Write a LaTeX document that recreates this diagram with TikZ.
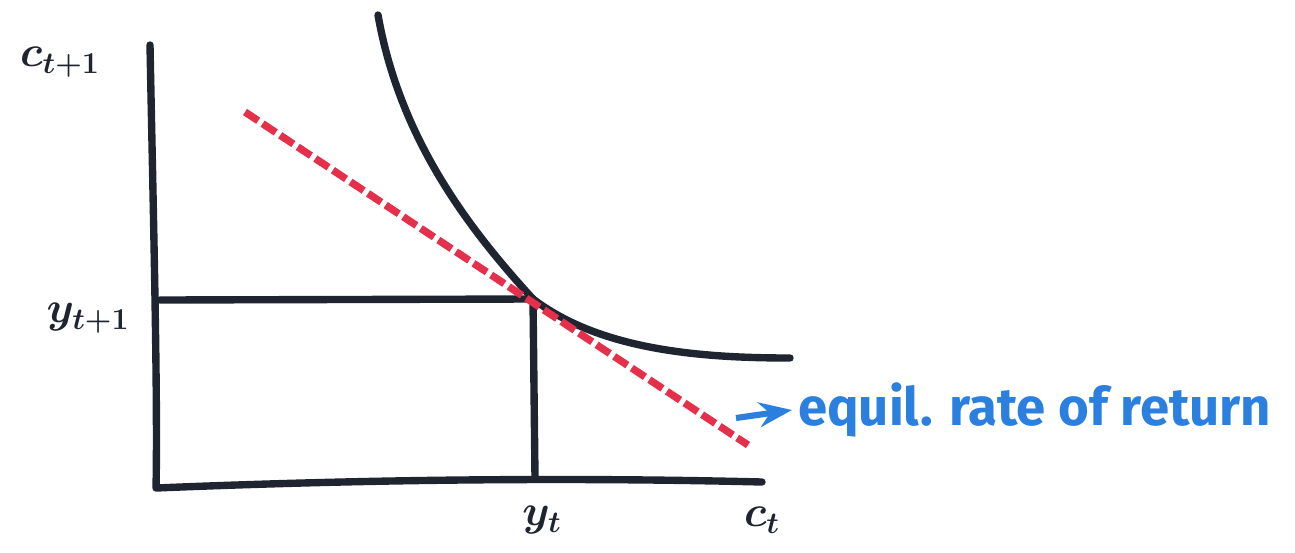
\documentclass[tikz,border=0pt]{standalone}
\usepackage{fontspec}
\setsansfont{Fira Sans}
\usetikzlibrary{arrows.meta,positioning}
\definecolor{xink}{HTML}{1F2431}
\definecolor{xred}{HTML}{E5304C}
\definecolor{xblue}{HTML}{2B7FDF}

\begin{document}
\begin{tikzpicture}[
    x=0.02cm, y=-0.02cm,
    >=Stealth,
    ink/.style={draw=xink, line width=4.2pt, line cap=round, line join=round},
    budget/.style={draw=xred, line width=4.2pt, dash pattern=on 9pt off 3pt},
    axlabel/.style={font=\boldmath\fontsize{27}{30}\selectfont, text=xink},
    note/.style={font=\sffamily\bfseries\fontsize{30}{34}\selectfont, text=xblue, anchor=west},
]
\useasboundingbox (0,0) rectangle (1295,552);

% --- Key points ---
\coordinate (top) at (150,45);
\coordinate (origin) at (156,488);
\coordinate (xend) at (762,482);
\coordinate (ylev) at (160,300);
\coordinate (opt) at (533,299);
\coordinate (yfoot) at (535,478);

% --- Axes ---
\draw[ink] (top) .. controls (153,200) and (158,400) .. (origin) .. controls (400,478) and (600,478) .. (xend);

% --- Endowment lines ---
\draw[ink] (ylev) -- (opt);
\draw[ink] (opt) -- (yfoot);

% --- Indifference curve ---
\draw[ink] (378,15) .. controls (400,140) and (470,230) .. (opt) .. controls (600,350) and (700,358) .. (790,358);

% --- Budget line ---
\coordinate (bstart) at (245,112);
\coordinate (bend) at (748,445);
\draw[budget] (bstart) -- (bend);

% --- Labels ---
\node[axlabel] (ctone) at (60,62) {$c_{t+1}$};
\node[axlabel] (ytone) at (88,318) {$y_{t+1}$};
\node[axlabel] (yt) at (542,520) {$y_t$};
\node[axlabel] (ct) at (762,520) {$c_t$};

% --- Note ---
\node[note] (eq) at (792,410) {equil. rate of return};
\coordinate (arrtail) at (736,418);
\draw[->, draw=xblue, line width=3.5pt] (arrtail) -- (eq.west);

\end{tikzpicture}
\end{document}
